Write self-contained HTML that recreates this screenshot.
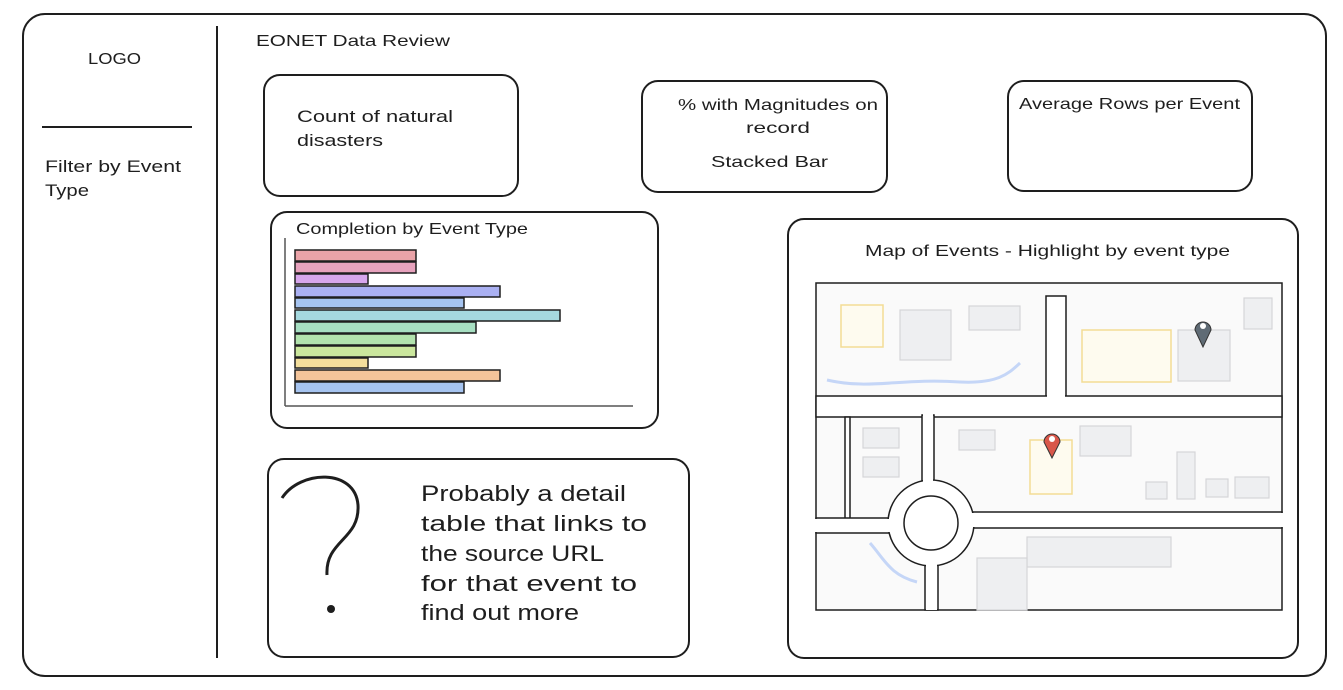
<!DOCTYPE html>
<html><head><meta charset="utf-8"><style>
html,body{margin:0;padding:0;background:#fff;}
svg{display:block;}
text{font-family:"Liberation Sans",sans-serif;fill:#1e1e1e;}
</style></head><body>
<svg width="1343" height="690" viewBox="0 0 1343 690" xmlns="http://www.w3.org/2000/svg">
<g fill="none" stroke="#1e1e1e" stroke-width="2">
<rect x="23" y="14" width="1303" height="662" rx="22"/>
<line x1="217" y1="26" x2="217" y2="658"/>
<line x1="42" y1="127" x2="192" y2="127"/>
<rect x="264" y="75" width="254" height="121" rx="16"/>
<rect x="642" y="81" width="245" height="111" rx="16"/>
<rect x="1008" y="81" width="244" height="110" rx="16"/>
<rect x="271" y="212" width="387" height="216" rx="16"/>
<rect x="268" y="459" width="421" height="198" rx="16"/>
<rect x="788" y="219" width="510" height="439" rx="16"/>
<line x1="285" y1="238" x2="285" y2="406" stroke-width="1.5" stroke="#555"/>
<line x1="285" y1="406" x2="633" y2="406" stroke-width="1.5" stroke="#555"/>
</g>
<text x="88" y="64" font-size="16" textLength="53" lengthAdjust="spacingAndGlyphs">LOGO</text>
<text x="45" y="172" font-size="17" textLength="136" lengthAdjust="spacingAndGlyphs">Filter by Event</text>
<text x="45" y="196" font-size="17" textLength="44" lengthAdjust="spacingAndGlyphs">Type</text>
<text x="256" y="46" font-size="16" textLength="194" lengthAdjust="spacingAndGlyphs">EONET Data Review</text>
<text x="297" y="122" font-size="17" textLength="156" lengthAdjust="spacingAndGlyphs">Count of natural</text>
<text x="297" y="146" font-size="17" textLength="86" lengthAdjust="spacingAndGlyphs">disasters</text>
<text x="678" y="110" font-size="16" textLength="200" lengthAdjust="spacingAndGlyphs">% with Magnitudes on</text>
<text x="746" y="133" font-size="16" textLength="64" lengthAdjust="spacingAndGlyphs">record</text>
<text x="711" y="167" font-size="16" textLength="117" lengthAdjust="spacingAndGlyphs">Stacked Bar</text>
<text x="1019" y="109" font-size="16" textLength="221" lengthAdjust="spacingAndGlyphs">Average Rows per Event</text>
<text x="296" y="234" font-size="16" textLength="232" lengthAdjust="spacingAndGlyphs">Completion by Event Type</text>
<text x="865" y="256" font-size="16" textLength="365" lengthAdjust="spacingAndGlyphs">Map of Events - Highlight by event type</text>
<text x="421" y="501" font-size="22" textLength="205" lengthAdjust="spacingAndGlyphs">Probably a detail</text>
<text x="421" y="531" font-size="22" textLength="226" lengthAdjust="spacingAndGlyphs">table that links to</text>
<text x="421" y="561" font-size="22" textLength="183" lengthAdjust="spacingAndGlyphs">the source URL</text>
<text x="421" y="591" font-size="22" textLength="216" lengthAdjust="spacingAndGlyphs">for that event to</text>
<text x="421" y="620" font-size="22" textLength="158" lengthAdjust="spacingAndGlyphs">find out more</text>
<path d="M282 498 C300 470 355 468 358 505 C360 540 325 540 327 575" fill="none" stroke="#1e1e1e" stroke-width="3"/>
<circle cx="331" cy="609" r="4" fill="#1e1e1e"/>
<g stroke="#1e1e1e" stroke-width="1.5">
<rect x="295" y="250" width="121" height="11" fill="#eaa3a8"/>
<rect x="295" y="262" width="121" height="11" fill="#e7a2bd"/>
<rect x="295" y="274" width="73" height="10" fill="#d7a6ec"/>
<rect x="295" y="286" width="205" height="11" fill="#aab0f2"/>
<rect x="295" y="298" width="169" height="10" fill="#a6c4f0"/>
<rect x="295" y="310" width="265" height="11" fill="#a5d9df"/>
<rect x="295" y="322" width="181" height="11" fill="#a7dfc2"/>
<rect x="295" y="334" width="121" height="11" fill="#b2e3ad"/>
<rect x="295" y="346" width="121" height="11" fill="#cbe79d"/>
<rect x="295" y="358" width="73" height="10" fill="#f3de9c"/>
<rect x="295" y="370" width="205" height="11" fill="#f3c49a"/>
<rect x="295" y="382" width="169" height="11" fill="#a6c4f0"/>
</g>
<rect x="816" y="283" width="466" height="327" fill="#fafafa" stroke="#1e1e1e" stroke-width="1.5"/>
<g stroke="#d5d5d8" stroke-width="1.2" fill="#eeeff1">
<rect x="900" y="310" width="51" height="50"/>
<rect x="969" y="306" width="51" height="24"/>
<rect x="1178" y="330" width="52" height="51"/>
<rect x="1244" y="298" width="28" height="31"/>
<rect x="863" y="428" width="36" height="20"/>
<rect x="863" y="457" width="36" height="20"/>
<rect x="959" y="430" width="36" height="20"/>
<rect x="1080" y="426" width="51" height="30"/>
<rect x="1146" y="482" width="21" height="17"/>
<rect x="1177" y="452" width="18" height="47"/>
<rect x="1206" y="479" width="22" height="18"/>
<rect x="1235" y="477" width="34" height="21"/>
<rect x="1027" y="537" width="144" height="30"/>
<rect x="977" y="558" width="50" height="52"/>
</g>
<g stroke="#f3dc95" stroke-width="1.5" fill="#fefbef">
<rect x="841" y="305" width="42" height="42"/>
<rect x="1082" y="330" width="89" height="52"/>
<rect x="1030" y="440" width="42" height="54"/>
</g>
<path d="M827 380 C870 390 900 378 960 382 C1000 384 1010 372 1020 363" fill="none" stroke="#c5d6f7" stroke-width="3"/>
<path d="M870 543 C885 560 890 575 917 582" fill="none" stroke="#c5d6f7" stroke-width="3"/>
<g fill="#fff" stroke="#1e1e1e" stroke-width="1.5">
<rect x="1046" y="296" width="20" height="104"/>
<rect x="816" y="396" width="466" height="21"/>
<rect x="845" y="417" width="5" height="103"/>
<rect x="922" y="415" width="12" height="80"/>
<rect x="816" y="518" width="80" height="15"/>
<rect x="960" y="512" width="322" height="16"/>
<rect x="925" y="555" width="13" height="55"/>
<circle cx="931" cy="523" r="43"/>
</g>
<g fill="#fff" stroke="none">
<rect x="923" y="414" width="10" height="86"/>
<rect x="926" y="550" width="11" height="60"/>
<rect x="814" y="519" width="90" height="13"/>
<rect x="955" y="513" width="328" height="14"/>
<rect x="1047" y="392" width="18" height="8"/>
</g>
<circle cx="931" cy="523" r="27" fill="#fff" stroke="#1e1e1e" stroke-width="1.5"/>
<path d="M1203 347 L1195 330 A8 8 0 1 1 1211 330 Z" fill="#5f6b75" stroke="#333" stroke-width="1"/>
<circle cx="1203" cy="326" r="3" fill="#fff"/>
<path d="M1052 458 L1044 442 A8 8 0 1 1 1060 442 Z" fill="#d9574a" stroke="#333" stroke-width="1"/>
<circle cx="1052" cy="439" r="3" fill="#fff"/>
</svg>
</body></html>
